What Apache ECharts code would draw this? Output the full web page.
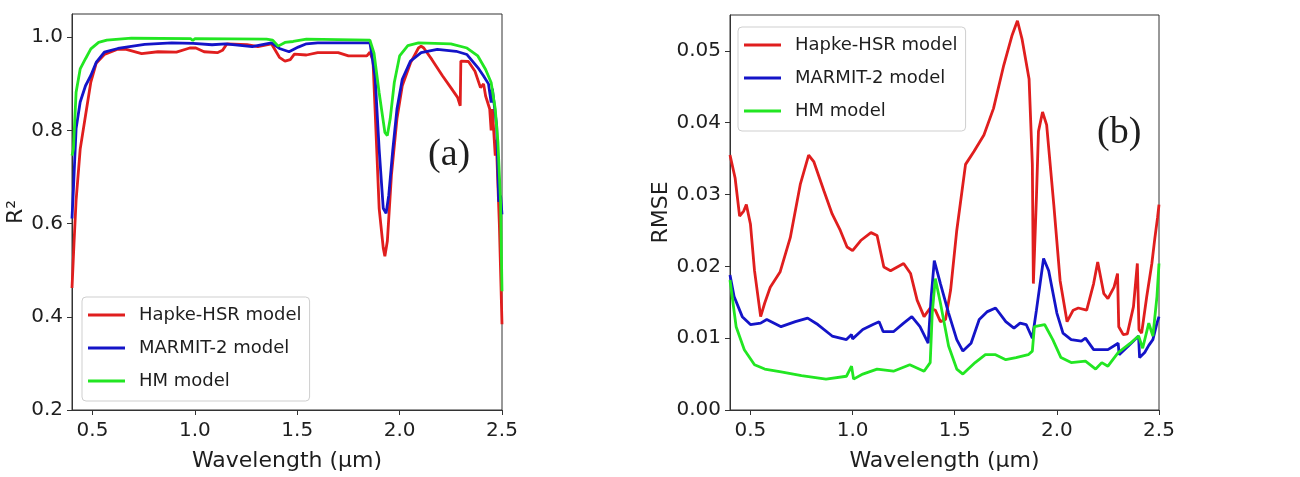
<!DOCTYPE html>
<html><head><meta charset="utf-8">
<script src="https://cdn.jsdelivr.net/npm/echarts@6/dist/echarts.min.js"></script>
<style>html,body{margin:0;padding:0;background:#fff}#c{width:1300px;height:477px}</style>
</head><body><div id="c"></div>
<script>
const seriesNames = ['Hapke-HSR model', 'MARMIT-2 model', 'HM model'];
const seriesColors = ['#e01e1e', '#1414c8', '#22e622'];
const xTicks = [0.5, 1.0, 1.5, 2.0, 2.5];
const r2Ticks = [0.2, 0.4, 0.6, 0.8, 1.0];
const rmseTicks = [0, 0.01, 0.02, 0.03, 0.04, 0.05];
const panelLabels = ['(a)', '(b)'];

// R² panel (a): [wavelength µm, R²]
const r2Hapke = [[0.4,0.462],[0.41,0.56],[0.42,0.65],[0.44,0.76],[0.466,0.832],[0.492,0.904],[0.518,0.944],[0.558,0.963],[0.62,0.974],[0.665,0.974],[0.74,0.965],[0.82,0.969],[0.91,0.968],[0.975,0.977],[1.005,0.977],[1.045,0.969],[1.11,0.967],[1.135,0.972],[1.157,0.986],[1.255,0.984],[1.308,0.98],[1.374,0.986],[1.413,0.957],[1.44,0.949],[1.466,0.952],[1.486,0.964],[1.545,0.962],[1.6,0.967],[1.7,0.967],[1.75,0.96],[1.84,0.96],[1.855,0.968],[1.87,0.95],[1.88,0.846],[1.9,0.633],[1.92,0.548],[1.928,0.53],[1.94,0.562],[1.96,0.704],[1.987,0.825],[2.013,0.896],[2.053,0.945],[2.092,0.977],[2.105,0.981],[2.118,0.977],[2.158,0.952],[2.21,0.917],[2.25,0.892],[2.283,0.871],[2.296,0.853],[2.299,0.949],[2.336,0.948],[2.368,0.927],[2.395,0.892],[2.41,0.9],[2.42,0.874],[2.44,0.846],[2.447,0.8],[2.453,0.846],[2.467,0.746],[2.472,0.78],[2.487,0.6],[2.5,0.384]];
const r2Marmit = [[0.4,0.611],[0.407,0.675],[0.42,0.804],[0.44,0.861],[0.466,0.896],[0.492,0.918],[0.518,0.946],[0.558,0.968],[0.624,0.976],[0.755,0.985],[0.887,0.988],[0.992,0.987],[1.084,0.984],[1.15,0.986],[1.28,0.98],[1.374,0.988],[1.413,0.976],[1.46,0.969],[1.505,0.979],[1.545,0.986],[1.6,0.988],[1.855,0.988],[1.88,0.917],[1.9,0.76],[1.92,0.633],[1.934,0.622],[1.947,0.661],[1.967,0.76],[1.987,0.846],[2.013,0.91],[2.053,0.949],[2.105,0.967],[2.184,0.974],[2.276,0.97],[2.329,0.963],[2.382,0.935],[2.41,0.917],[2.434,0.9],[2.447,0.86],[2.453,0.89],[2.474,0.81],[2.484,0.647],[2.493,0.66],[2.5,0.62]];
const r2Hm = [[0.4,0.746],[0.407,0.76],[0.42,0.882],[0.44,0.932],[0.466,0.954],[0.492,0.975],[0.53,0.989],[0.57,0.994],[0.69,0.998],[0.98,0.997],[0.99,0.993],[1.0,0.997],[1.35,0.996],[1.38,0.994],[1.407,0.981],[1.44,0.989],[1.48,0.991],[1.545,0.996],[1.855,0.994],[1.875,0.966],[1.9,0.881],[1.928,0.796],[1.94,0.789],[1.954,0.825],[1.974,0.903],[2.0,0.96],[2.04,0.982],[2.092,0.988],[2.25,0.986],[2.329,0.977],[2.382,0.96],[2.42,0.931],[2.447,0.903],[2.467,0.846],[2.48,0.775],[2.493,0.647],[2.5,0.455]];

// RMSE panel (b): [wavelength µm, RMSE]
const rmseHapke = [[0.4,0.0355],[0.425,0.0323],[0.447,0.027],[0.467,0.0277],[0.48,0.0286],[0.5,0.0259],[0.52,0.0194],[0.55,0.013],[0.57,0.0149],[0.597,0.0171],[0.645,0.0192],[0.695,0.024],[0.744,0.0314],[0.785,0.0355],[0.81,0.0346],[0.86,0.0305],[0.9,0.0273],[0.94,0.025],[0.973,0.0227],[1.0,0.0222],[1.04,0.0236],[1.09,0.0247],[1.12,0.0243],[1.153,0.0199],[1.186,0.0194],[1.25,0.0204],[1.284,0.019],[1.316,0.0153],[1.35,0.013],[1.38,0.0142],[1.405,0.0139],[1.43,0.0123],[1.455,0.0126],[1.48,0.0167],[1.51,0.025],[1.553,0.0342],[1.594,0.036],[1.643,0.0383],[1.69,0.042],[1.74,0.048],[1.78,0.0521],[1.807,0.0542],[1.83,0.0516],[1.864,0.0461],[1.88,0.0342],[1.885,0.0176],[1.9,0.0296],[1.91,0.0388],[1.93,0.0415],[1.95,0.0397],[1.985,0.0286],[2.016,0.018],[2.05,0.0123],[2.08,0.0139],[2.105,0.0142],[2.146,0.0139],[2.18,0.0176],[2.2,0.0206],[2.23,0.0162],[2.25,0.0155],[2.28,0.0171],[2.297,0.019],[2.303,0.0116],[2.325,0.0105],[2.345,0.0106],[2.375,0.0144],[2.394,0.0204],[2.402,0.0112],[2.415,0.0107],[2.44,0.0158],[2.465,0.0204],[2.48,0.024],[2.493,0.0268],[2.5,0.0286]];
const rmseMarmit = [[0.4,0.0188],[0.42,0.0158],[0.46,0.013],[0.5,0.0119],[0.55,0.0121],[0.58,0.0126],[0.65,0.0116],[0.72,0.0123],[0.78,0.0128],[0.83,0.0119],[0.9,0.0103],[0.97,0.0098],[0.995,0.0105],[1.0,0.0099],[1.05,0.0112],[1.1,0.0119],[1.13,0.0123],[1.15,0.0109],[1.2,0.0109],[1.25,0.0121],[1.29,0.013],[1.33,0.0116],[1.37,0.0093],[1.385,0.0158],[1.4,0.0208],[1.43,0.0176],[1.47,0.0135],[1.51,0.0098],[1.54,0.0082],[1.58,0.0093],[1.62,0.0126],[1.66,0.0137],[1.7,0.0142],[1.75,0.0123],[1.79,0.0114],[1.82,0.0121],[1.85,0.0119],[1.88,0.01],[1.9,0.0139],[1.935,0.0211],[1.96,0.0194],[2.0,0.0135],[2.03,0.0107],[2.07,0.0098],[2.12,0.0096],[2.14,0.01],[2.18,0.0084],[2.25,0.0084],[2.3,0.0093],[2.305,0.0077],[2.35,0.0089],[2.4,0.0103],[2.405,0.0073],[2.43,0.008],[2.45,0.009],[2.47,0.0098],[2.49,0.0121],[2.5,0.013]];
const rmseHm = [[0.4,0.0181],[0.43,0.0116],[0.47,0.0084],[0.52,0.0063],[0.57,0.0057],[0.65,0.0053],[0.75,0.0048],[0.87,0.0043],[0.97,0.0047],[0.995,0.0061],[1.005,0.0043],[1.05,0.005],[1.12,0.0057],[1.2,0.0054],[1.28,0.0063],[1.35,0.0054],[1.38,0.0066],[1.39,0.0135],[1.405,0.0183],[1.43,0.0149],[1.47,0.0089],[1.51,0.0057],[1.54,0.005],[1.6,0.0066],[1.65,0.0077],[1.7,0.0077],[1.75,0.007],[1.8,0.0073],[1.86,0.0077],[1.88,0.0082],[1.89,0.0116],[1.94,0.0119],[1.98,0.0098],[2.02,0.0073],[2.07,0.0066],[2.14,0.0068],[2.19,0.0057],[2.22,0.0066],[2.25,0.0061],[2.3,0.008],[2.36,0.0093],[2.4,0.0103],[2.42,0.0086],[2.45,0.0121],[2.47,0.0103],[2.49,0.0158],[2.5,0.0204]];

const FONT = '"DejaVu Sans", sans-serif';
const TXT = '#1e1e1e';

function xAxisFor(gi) {
  return {
    type: 'value', gridIndex: gi, min: 0.4, max: 2.5,
    name: 'Wavelength (μm)', nameLocation: 'middle', nameGap: 40,
    nameTextStyle: { fontSize: 22, color: TXT, fontFamily: FONT },
    axisLine: { show: true, lineStyle: { color: '#333', width: 1 } },
    axisTick: { show: true, customValues: xTicks, length: 5, lineStyle: { color: '#333' } },
    axisLabel: { customValues: xTicks, formatter: v => v.toFixed(1), fontSize: 20, color: TXT, fontFamily: FONT, margin: 11 },
    splitLine: { show: false }
  };
}
function yAxisFor(gi, name, min, max, ticks, dec, gap) {
  return {
    type: 'value', gridIndex: gi, min: min, max: max,
    name: name, nameLocation: 'middle', nameGap: gap,
    nameTextStyle: { fontSize: 22, color: TXT, fontFamily: FONT },
    axisLine: { show: true, lineStyle: { color: '#333', width: 1 } },
    axisTick: { show: true, customValues: ticks, length: 5, lineStyle: { color: '#333' } },
    axisLabel: { customValues: ticks, formatter: v => v.toFixed(dec), fontSize: 20, color: TXT, fontFamily: FONT, margin: 9, padding: [5, 0, 0, 0] },
    splitLine: { show: false }
  };
}
function legendAt(left, top) {
  return {
    data: seriesNames, orient: 'vertical', left: left, top: top,
    icon: 'rect', itemWidth: 37, itemHeight: 3, itemGap: 11,
    padding: [7, 8, 9, 6],
    borderColor: '#cfcfcf', borderWidth: 1, borderRadius: 4, backgroundColor: '#fff',
    textStyle: { fontSize: 18, color: TXT, fontFamily: FONT, lineHeight: 22, padding: [0, 0, 0, 9] }
  };
}
function lineSeries(name, color, data, gi) {
  return {
    type: 'line', name: name, xAxisIndex: gi, yAxisIndex: gi, data: data,
    showSymbol: false, symbol: 'none', smooth: false,
    lineStyle: { color: color, width: 2.8 }, itemStyle: { color: color }
  };
}

const chart = echarts.init(document.getElementById('c'), null, { renderer: 'canvas' });
chart.setOption({
  animation: false,
  backgroundColor: '#fff',
  grid: [
    { left: 72, right: 798, top: 14, bottom: 64, show: true, borderColor: '#333', borderWidth: 1, backgroundColor: 'transparent' },
    { left: 730, right: 141, top: 15, bottom: 63, show: true, borderColor: '#333', borderWidth: 1, backgroundColor: 'transparent' }
  ],
  xAxis: [xAxisFor(0), xAxisFor(1)],
  yAxis: [
    yAxisFor(0, 'R²', 0.2, 1.05, r2Ticks, 1, 38),
    yAxisFor(1, 'RMSE', 0, 0.055, rmseTicks, 2, 49)
  ],
  legend: [legendAt(82, 297), legendAt(738, 27)],
  series: [
    lineSeries(seriesNames[0], seriesColors[0], r2Hapke, 0),
    lineSeries(seriesNames[1], seriesColors[1], r2Marmit, 0),
    lineSeries(seriesNames[2], seriesColors[2], r2Hm, 0),
    lineSeries(seriesNames[0], seriesColors[0], rmseHapke, 1),
    lineSeries(seriesNames[1], seriesColors[1], rmseMarmit, 1),
    lineSeries(seriesNames[2], seriesColors[2], rmseHm, 1)
  ],
  graphic: [
    { type: 'text', x: 428, y: 155, style: { text: panelLabels[0], font: '38px "Liberation Serif", serif', fill: TXT, verticalAlign: 'middle' } },
    { type: 'text', x: 1097, y: 133, style: { text: panelLabels[1], font: '38px "Liberation Serif", serif', fill: TXT, verticalAlign: 'middle' } }
  ]
});
</script>
</body></html>
